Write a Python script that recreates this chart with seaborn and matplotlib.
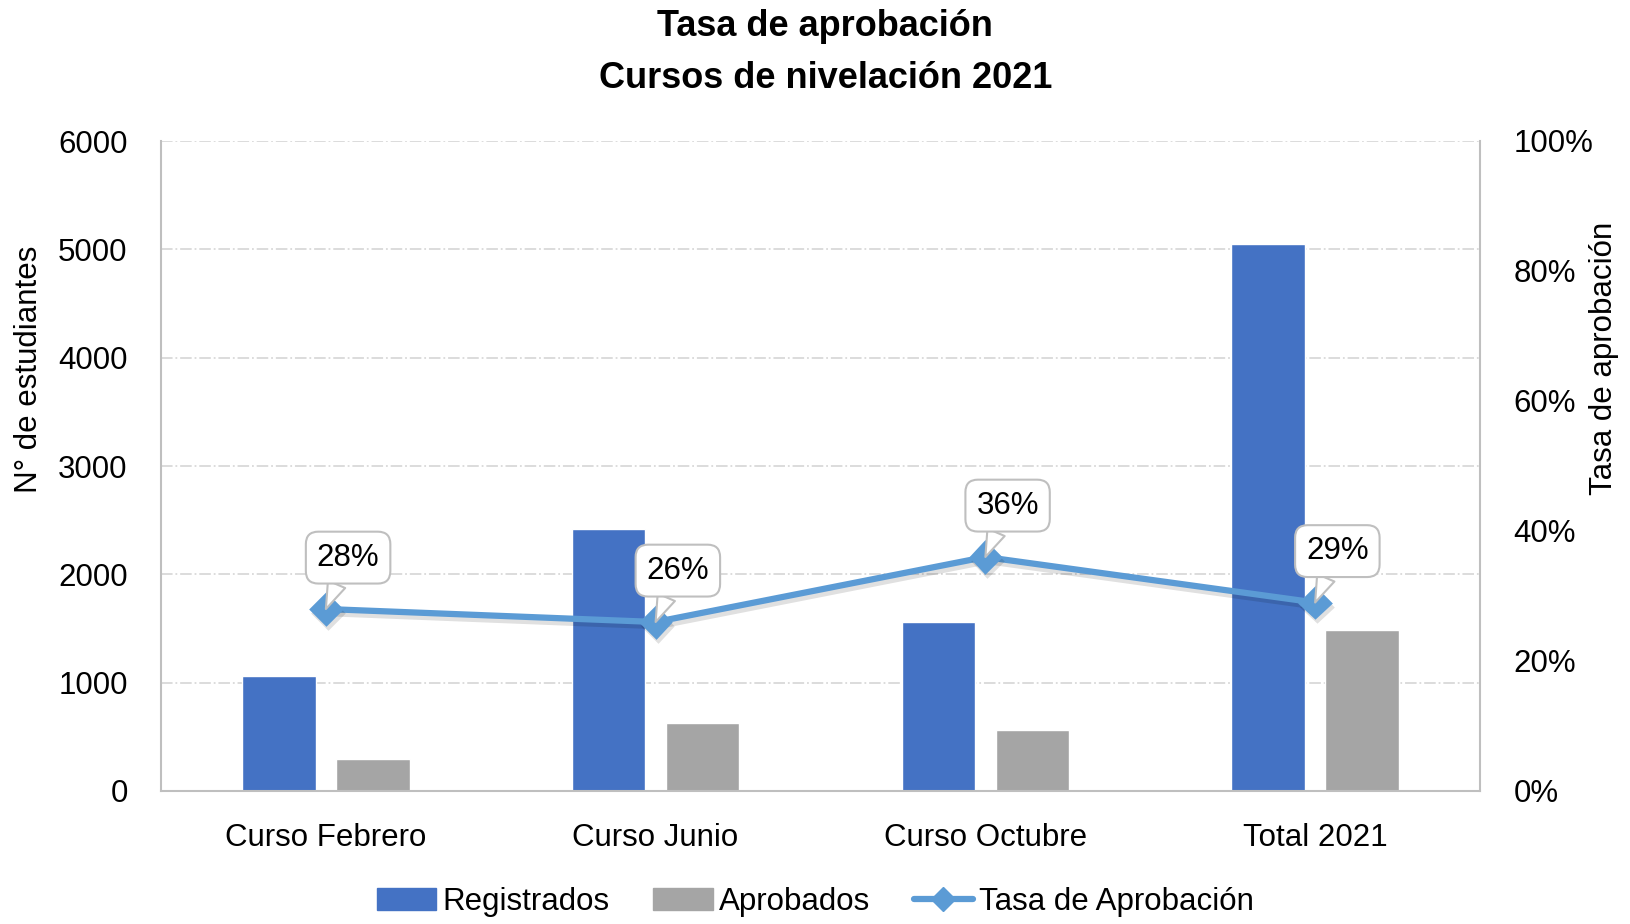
import matplotlib
matplotlib.use('Agg')
import matplotlib.pyplot as plt
import matplotlib.patheffects as pe
from matplotlib.lines import Line2D
from matplotlib.patches import Patch
import seaborn as sns
import pandas as pd
import numpy as np

# Datos
cursos = ['Curso Febrero', 'Curso Junio', 'Curso Octubre', 'Total 2021']
registrados = [1060, 2420, 1560, 5050]
aprobados = [295, 625, 560, 1490]
tasa = [0.28, 0.26, 0.36, 0.29]
tasa_txt = ['28%', '26%', '36%', '29%']

azul = '#4472C4'
gris = '#A5A5A5'
celeste = '#5B9BD5'

sns.set_theme(style='white')
plt.rcParams['font.family'] = ['Liberation Sans', 'DejaVu Sans']
plt.rcParams['text.color'] = 'black'

fs = 22.5

df = pd.DataFrame({'Curso': cursos * 2,
                   'valor': registrados + aprobados,
                   'Serie': ['Registrados'] * 4 + ['Aprobados'] * 4})
df_tasa = pd.DataFrame({'Curso': cursos, 'tasa': tasa})

fig = plt.figure(figsize=(16.31, 9.24), dpi=100)
ax = fig.add_axes([161 / 1631, 1 - 791 / 924, (1480 - 161) / 1631, (791 - 141) / 924])

sns.barplot(data=df, x='Curso', y='valor', hue='Serie', palette=[azul, gris],
            width=0.57, gap=0.22, ax=ax, legend=False, saturation=1, zorder=2)

ax.set_ylim(0, 6000)
ax.set_yticks(range(0, 6001, 1000))
ax.grid(axis='y', color='#D9D9D9', linestyle='-.', linewidth=1.3, zorder=0)
ax.set_axisbelow(True)
ax.spines['top'].set_visible(False)
for s in ['left', 'bottom', 'right']:
    ax.spines[s].set_color('#BFBFBF')
    ax.spines[s].set_linewidth(1.5)
ax.tick_params(axis='y', labelsize=fs, pad=24, length=0, colors='black')
ax.tick_params(axis='x', labelsize=fs, pad=23, length=0, colors='black')
ax.set_xlabel('')
ax.set_ylabel('N° de estudiantes', fontsize=fs, color='black')
ax.yaxis.set_label_coords(-0.089, 0.649)

# Eje secundario
ax2 = ax.twinx()
sns.pointplot(data=df_tasa, x='Curso', y='tasa', color=celeste, markers='D',
              markersize=14, linewidth=4.5, ax=ax2, zorder=5)
for ln in ax2.lines:
    ln.set_path_effects([pe.SimpleLineShadow(offset=(1.5, -3), alpha=0.12, shadow_color='black'),
                         pe.Normal()])
ax2.set_ylim(0, 1)
ax2.set_yticks(np.arange(0, 1.01, 0.2))
ax2.set_yticklabels([f'{int(round(v * 100))}%' for v in np.arange(0, 1.01, 0.2)])
ax2.tick_params(axis='y', labelsize=fs, pad=24, length=0, colors='black')
ax2.set_ylabel('Tasa de aprobación', fontsize=fs, color='black')
ax2.yaxis.set_label_position('right')
ax2.yaxis.set_label_coords(1.083, 0.665)
for s in ax2.spines.values():
    s.set_visible(False)
ax2.grid(False)

for i, (v, t) in enumerate(zip(tasa, tasa_txt)):
    ax2.annotate(t, xy=(i, v), xytext=(16, 37), textcoords='offset points',
                 ha='center', va='center', fontsize=fs, zorder=6,
                 bbox=dict(boxstyle='round,pad=0.35,rounding_size=0.4', fc='white', ec='#BFBFBF', lw=1.5),
                 arrowprops=dict(arrowstyle='wedge,tail_width=0.6', fc='white', ec='#BFBFBF', lw=1.5,
                                 shrinkA=0, shrinkB=0))

ax.set_xlim(-0.5, 3.5)
ax2.set_xlim(-0.5, 3.5)

# Título
fig.text(0.506, 1 - 27 / 924, 'Tasa de aprobación', ha='center', va='center', fontsize=26, fontweight='bold')
fig.text(0.506, 1 - 78 / 924, 'Cursos de nivelación 2021', ha='center', va='center', fontsize=26, fontweight='bold')

# Leyenda
handles = [Patch(color=azul), Patch(color=gris),
           Line2D([0], [0], color=celeste, lw=4.5, marker='D', markersize=12)]
fig.legend(handles, ['Registrados', 'Aprobados', 'Tasa de Aprobación'], loc='center',
           bbox_to_anchor=(0.5, 1 - 902 / 924), ncol=3, frameon=False, fontsize=fs,
           handlelength=1.9, handletextpad=0.2, columnspacing=1.4)

fig.savefig('out.png', dpi=100)
